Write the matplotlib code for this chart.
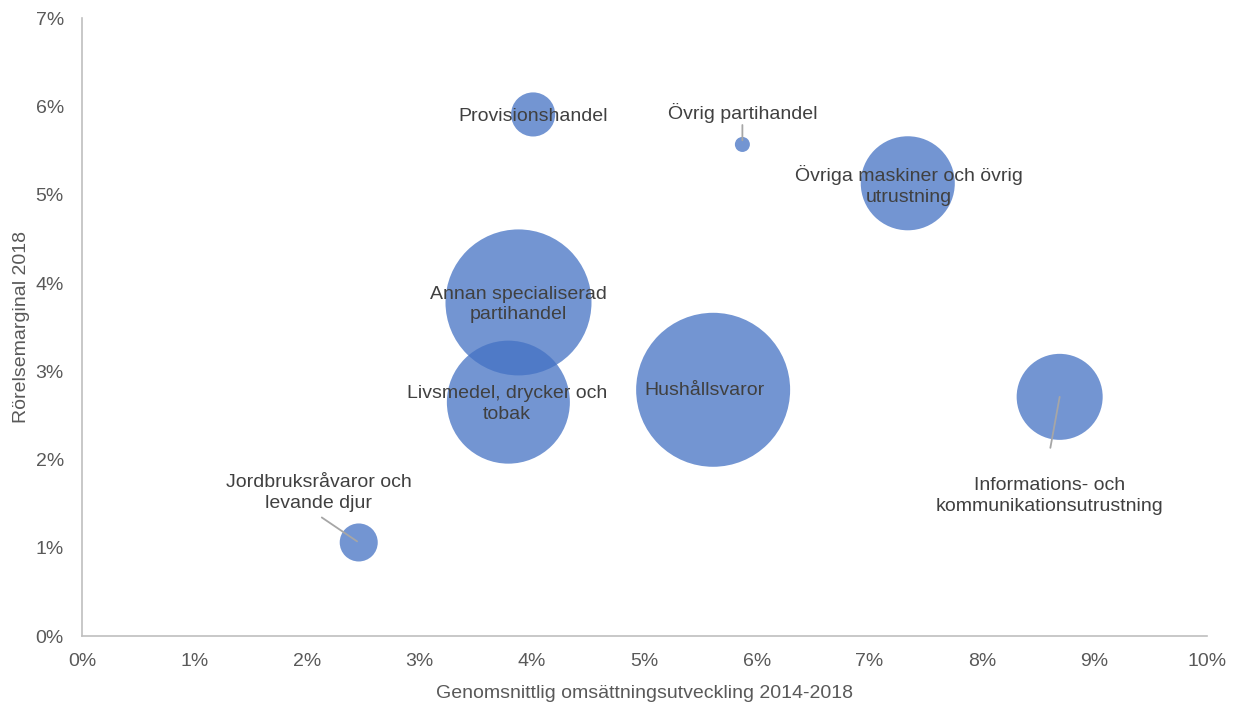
import matplotlib
matplotlib.use("Agg")
import matplotlib.pyplot as plt
from matplotlib.ticker import PercentFormatter, MultipleLocator

# Branch segments of the wholesale trade
branches = [
    "Provisionshandel",
    "Övrig partihandel",
    "Övriga maskiner och övrig\nutrustning",
    "Annan specialiserad\npartihandel",
    "Livsmedel, drycker och\ntobak",
    "Hushållsvaror",
    "Informations- och\nkommunikationsutrustning",
    "Jordbruksråvaror och\nlevande djur",
]
# Average turnover growth 2014-2018 (%)
growth = [4.01, 5.87, 7.34, 3.88, 3.79, 5.61, 8.69, 2.46]
# Operating margin 2018 (%)
margin = [5.91, 5.57, 5.13, 3.78, 2.65, 2.79, 2.71, 1.06]
# Relative bubble size (largest = 100)
bubble_size = [8.2, 0.95, 37.3, 89.9, 63.8, 100.0, 31.2, 6.1]

# Label placement: offset of the text from the bubble centre, in points
label_offsets = [(0, -1.5), (0, 23), (1, -1.5), (0, -1.5), (-1, -1.5), (-6, -0.5),
                 (-7, -71.5), (-29, 35.5)]
# Leader lines: (gap at the bubble end, far end offset) in points, or None
leaders = [None, (3, (0, 14)), None, None, None, None,
           (0, (-6.7, -36.7)), (1.4, (-26.6, 18))]

fig = plt.figure(figsize=(12.38, 7.02), dpi=100)
ax = fig.add_axes([0.0662, 0.094, 0.9088, 0.880])

max_diam_pt = 2 * 77 * 0.72
scale = max_diam_pt ** 2 / max(bubble_size)
ax.scatter(growth, margin, s=[v * scale for v in bubble_size],
           color="#4472C4", alpha=0.75, edgecolors="none", zorder=2)

label_font = dict(family="Liberation Sans", size=14, color="#404040")
for name, x, y, (dx, dy), lead in zip(branches, growth, margin, label_offsets, leaders):
    ax.annotate(name, xy=(x, y), xytext=(dx, dy), textcoords="offset points",
                ha="center", va="center", linespacing=1.3, zorder=3,
                **label_font)
    if lead is not None:
        gap, (x1, y1) = lead
        ax.annotate("", xy=(x, y), xycoords="data",
                    xytext=(x1, y1), textcoords="offset points",
                    arrowprops=dict(arrowstyle="-", color="#A6A6A6", lw=1.3,
                                    shrinkA=0, shrinkB=gap),
                    zorder=3)

ax.set_xlim(0, 10)
ax.set_ylim(0, 7)
ax.xaxis.set_major_locator(MultipleLocator(1))
ax.yaxis.set_major_locator(MultipleLocator(1))
ax.xaxis.set_major_formatter(PercentFormatter(decimals=0))
ax.yaxis.set_major_formatter(PercentFormatter(decimals=0))

for side in ("top", "right"):
    ax.spines[side].set_visible(False)
for side in ("left", "bottom"):
    ax.spines[side].set_color("#BFBFBF")
    ax.spines[side].set_linewidth(1.2)

ax.tick_params(length=0, labelsize=14, colors="#595959")
ax.tick_params(axis="x", pad=12)
ax.tick_params(axis="y", pad=13)
for lbl in ax.get_xticklabels() + ax.get_yticklabels():
    lbl.set_family("Liberation Sans")

ax.set_xlabel("Genomsnittlig omsättningsutveckling 2014-2018",
              family="Liberation Sans", size=14, color="#595959", labelpad=11)
ax.set_ylabel("Rörelsemarginal 2018",
              family="Liberation Sans", size=14, color="#595959", labelpad=4)

fig.savefig("out.png", dpi=100)
